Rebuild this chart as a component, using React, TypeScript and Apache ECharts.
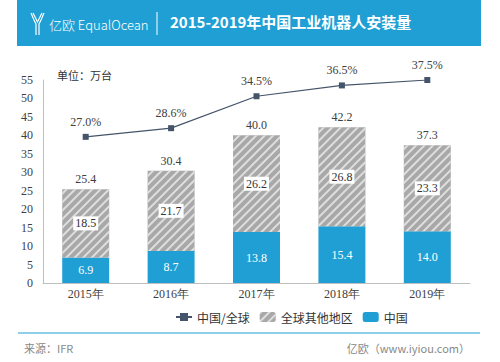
import React, { useEffect, useRef } from "react";
import * as echarts from "echarts";

const years = ["2015年", "2016年", "2017年", "2018年", "2019年"];
const chinaValues = [6.9, 8.7, 13.8, 15.4, 14.0];
const restValues = [18.5, 21.7, 26.2, 26.8, 23.3];
const totalValues = [25.4, 30.4, 40.0, 42.2, 37.3];
const shareValues = [27.0, 28.6, 34.5, 36.5, 37.5];
const yMin = 0;
const yMax = 55;
const yInterval = 5;
const shareAxisMax = 37.5;

const serif = "'Liberation Serif', 'DejaVu Serif', serif";
const sans = "'Noto Sans CJK SC', 'Noto Sans', sans-serif";
const blue = "#1f9fd4";

export default function App() {
  const ref = useRef<HTMLDivElement>(null);
  useEffect(() => {
    if (!ref.current) return;
    const chart = echarts.init(ref.current, null, { renderer: "svg" });
    const option: any = {
      animation: false,
      backgroundColor: "#ffffff",
      grid: { left: 43, right: 30, top: 80, bottom: 79 },
      legend: {
        data: ["中国/全球", "全球其他地区", "中国"],
        left: 170,
        top: 306,
        itemWidth: 16,
        itemHeight: 10,
        itemGap: 10,
        textStyle: { fontFamily: sans, fontSize: 12, color: "#333" },
      },
      xAxis: {
        type: "category",
        data: years,
        axisLine: { lineStyle: { color: "#bfbfbf" } },
        axisTick: { show: false },
        axisLabel: { fontFamily: serif, fontSize: 12, color: "#404040", margin: 5 },
      },
      yAxis: [
        {
          type: "value",
          min: yMin,
          max: yMax,
          interval: yInterval,
          axisLine: { show: true, lineStyle: { color: "#bfbfbf" } },
          axisTick: { show: false },
          splitLine: { show: false },
          axisLabel: { fontFamily: serif, fontSize: 12, color: "#404040", margin: 10 },
        },
        { type: "value", min: 0, max: shareAxisMax, show: false, splitLine: { show: false } },
      ],
      series: [
        {
          name: "中国/全球",
          type: "line",
          yAxisIndex: 1,
          data: shareValues,
          symbol: "rect",
          symbolSize: 6,
          lineStyle: { color: "#44546a", width: 1.2 },
          itemStyle: { color: "#44546a" },
          label: {
            show: true,
            position: "top",
            distance: 6,
            fontFamily: serif,
            fontSize: 12,
            color: "#404040",
            formatter: (p: any) => p.value.toFixed(1) + "%",
          },
          z: 5,
        },
        {
          name: "中国",
          type: "bar",
          stack: "a",
          barWidth: "55%",
          data: chinaValues,
          itemStyle: { color: blue },
          label: {
            show: true,
            position: "inside",
            fontFamily: serif,
            fontSize: 12,
            color: "#ffffff",
            formatter: (p: any) => p.value.toFixed(1),
          },
        },
        {
          name: "全球其他地区",
          type: "bar",
          stack: "a",
          data: restValues,
          itemStyle: {
            color: "#a8a8a8",
            decal: {
              symbol: "rect",
              color: "#dedede",
              dashArrayX: [1, 0],
              dashArrayY: [1.6, 3.2],
              rotation: -Math.PI / 4,
              symbolSize: 1,
            },
          },
          label: {
            show: true,
            position: "inside",
            fontFamily: serif,
            fontSize: 12,
            color: "#333",
            backgroundColor: "#ffffff",
            padding: [1, 2],
            formatter: (p: any) => p.value.toFixed(1),
          },
        },
        {
          name: "合计",
          type: "bar",
          stack: "a",
          data: totalValues.map(() => 0),
          itemStyle: { color: "transparent" },
          silent: true,
          label: {
            show: true,
            position: "top",
            distance: 4,
            fontFamily: serif,
            fontSize: 12,
            color: "#404040",
            formatter: (p: any) => totalValues[p.dataIndex].toFixed(1),
          },
        },
      ],
      graphic: [
        { type: "rect", shape: { x: 17, y: 0, width: 464, height: 46 }, style: { fill: blue }, silent: true },
        { type: "polyline", shape: { points: [[31, 13], [34, 20], [36, 24], [36, 35]] }, style: { stroke: "#fff", lineWidth: 1.2, fill: null } },
        { type: "polyline", shape: { points: [[44, 13], [41, 20], [39, 24], [39, 35]] }, style: { stroke: "#fff", lineWidth: 1.2, fill: null } },
        { type: "polyline", shape: { points: [[33, 13], [37.5, 22], [42, 13]] }, style: { stroke: "#fff", lineWidth: 1.2, fill: null } },
        {
          type: "text",
          left: 49,
          top: 18,
          style: { text: "亿欧 EqualOcean", fill: "#ffffff", font: "300 13px 'Noto Sans CJK SC', sans-serif" },
        },
        { type: "line", shape: { x1: 157, y1: 12, x2: 157, y2: 35 }, style: { stroke: "#ffffff", lineWidth: 1 } },
        {
          type: "text",
          left: 170,
          top: 14,
          style: { text: "2015-2019年中国工业机器人安装量", fill: "#ffffff", font: "bold 15px 'Noto Sans CJK SC', sans-serif" },
        },
        {
          type: "text",
          left: 57,
          top: 69,
          style: { text: "单位：万台", fill: "#333", font: "11px 'Noto Sans CJK SC', sans-serif" },
        },
        { type: "line", shape: { x1: 18, y1: 333, x2: 480, y2: 333 }, style: { stroke: blue, lineWidth: 1 } },
        {
          type: "text",
          left: 24,
          top: 342,
          style: { text: "来源：IFR", fill: "#888", font: "11px 'Noto Sans CJK SC', sans-serif" },
        },
        {
          type: "text",
          right: 30,
          top: 342,
          style: { text: "亿欧（www.iyiou.com）", fill: "#888", font: "11px 'Noto Sans CJK SC', sans-serif" },
        },
      ],
    };
    chart.setOption(option);
    return () => chart.dispose();
  }, []);
  return <div ref={ref} style={{ position: "fixed", left: 0, top: 0, width: 500, height: 362 }} />;
}
